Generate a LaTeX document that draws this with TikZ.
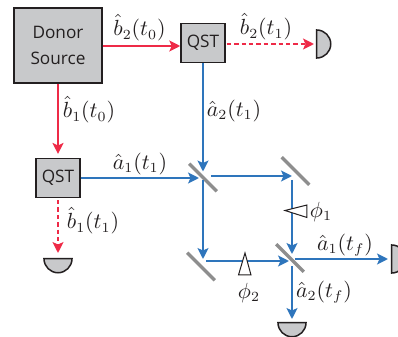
\documentclass[tikz,border=0pt]{standalone}
\usepackage{fontspec}
\usepackage{amsmath}
\newfontfamily\boxfont{Open Sans}
\usetikzlibrary{arrows.meta,positioning,shapes.geometric}
\definecolor{sigred}{HTML}{EE2A47}
\definecolor{beamblue}{HTML}{2E75BC}
\definecolor{boxgray}{HTML}{C8C9CB}
\definecolor{linedark}{HTML}{231F20}
\definecolor{mirrorgray}{HTML}{8E8E8E}
\begin{document}
\begin{tikzpicture}[
    x = 0.5pt, y = -0.5pt,
    >={Stealth[length=5.5pt,width=5.5pt,inset=1.3pt]}, % arrow head style
    box/.style = {draw = linedark, line width = 0.75pt, fill = boxgray, inner sep = 0pt, font = \boxfont\fontsize{8.6}{12}\selectfont, text = linedark, align = center},
    detector/.style = {semicircle, draw = linedark, line width = 0.75pt, fill = boxgray, inner sep = 0pt, minimum width = 14pt, minimum height = 7pt, anchor = chord center},
    mirror/.style = {fill = mirrorgray, inner sep = 0pt, minimum width = 19.5pt, minimum height = 1.7pt},
    signal/.style = {->, sigred, line width = 0.95pt},
    herald/.style = {signal, dash pattern = on 2.2pt off 1.5pt},
    beam/.style = {->, beamblue, line width = 0.95pt},
    wedge/.style = {draw = linedark, line width = 0.5pt, fill = white},
    lab/.style = {text = linedark, inner sep = 0pt, font = \fontsize{10.6}{13}\selectfont}
    ]
    \useasboundingbox (0,0) rectangle (398,337);
    \clip (0,0) rectangle (398,337);

    % boxes
    \node[box, minimum width = 44pt, minimum height = 37.6pt] (donor) at (58,45.5) {Donor\\[1pt]Source};
    \node[box, minimum width = 22pt, minimum height = 19.3pt] (qst2) at (203,43) {QST};
    \node[box, minimum width = 22pt, minimum height = 19.3pt] (qst1) at (58,178) {QST};

    % detectors
    \node[detector, rotate = -90] (det2) at (316,44) {};
    \node[detector, rotate = 180] (det1) at (58,258) {};
    \node[detector, rotate = -90] (det3) at (391,259) {};
    \node[detector, rotate = 180] (det4) at (292,322) {};

    % beam splitters and mirrors
    \node[mirror, rotate = -45] (bs1) at (203,177.5) {};
    \node[mirror, rotate = -45] (mir1) at (295.5,171) {};
    \node[mirror, rotate = -45] (mir2) at (201,266.5) {};
    \node[mirror, rotate = -45] (bs2) at (290,258) {};

    \coordinate (bs1r) at (211,176);
    \coordinate (hit1) at (292,176);
    \coordinate (mir1d) at (292,180);
    \coordinate (hit2) at (292,254);
    \coordinate (bs1d) at (203,180);
    \coordinate (hit3) at (203,259);
    \coordinate (mir2r) at (206,261);
    \coordinate (hit4) at (289,261);
    \coordinate (bs2r) at (295,259);
    \coordinate (bs2d) at (292,266);

    % signal paths
    \draw[signal] (donor.east |- 0,46) -- (qst2.west |- 0,46);
    \draw[signal, shorten > = 2pt] (donor.south) -- (qst1.north);
    \draw[herald, shorten > = 1pt, shorten < = 0.5pt] (qst2.east |- det2.chord center) -- (det2.chord center);
    \draw[herald, shorten > = 2.5pt, shorten < = 1pt] (qst1.south) -- (det1.chord center);

    % interferometer
    \draw[beam, shorten > = 3pt] (qst2.south) -- (bs1.center);
    \draw[beam, shorten > = 2pt] (qst1.east) -- (bs1.center |- qst1.east);
    \draw[beam] (bs1r) -- (hit1);
    \draw[beam] (mir1d) -- (hit2);
    \draw[beam] (bs1d) -- (hit3);
    \draw[beam] (mir2r) -- (hit4);
    \draw[beam, shorten > = 1.5pt] (bs2r) -- (det3.chord center);
    \draw[beam, shorten > = 1.5pt] (bs2d) -- (det4.chord center);

    % phase wedges
    \draw[wedge] (285,210.5) -- (307,205) -- (307,217.5) -- cycle;
    \draw[wedge] (245,253) -- (251,275) -- (238.5,275) -- cycle;

    % labels
    \node[lab] (lb2a) at (139.5,28) {$\hat{b}_2(t_0)$};
    \node[lab] (lb1a) at (89,110) {$\hat{b}_1(t_0)$};
    \node[lab] (lb2b) at (266,27) {$\hat{b}_2(t_1)$};
    \node[lab] (lb1b) at (93,221) {$\hat{b}_1(t_1)$};
    \node[lab] (la1a) at (140,164) {$\hat{a}_1(t_1)$};
    \node[lab] (la2a) at (234,111) {$\hat{a}_2(t_1)$};
    \node[lab] (la1f) at (345,245) {$\hat{a}_1(t_f)$};
    \node[lab] (la2f) at (324,292) {$\hat{a}_2(t_f)$};
    \node[lab] (lphi1) at (321,212) {$\phi_1$};
    \node[lab] (lphi2) at (249,293) {$\phi_2$};
\end{tikzpicture}
\end{document}
